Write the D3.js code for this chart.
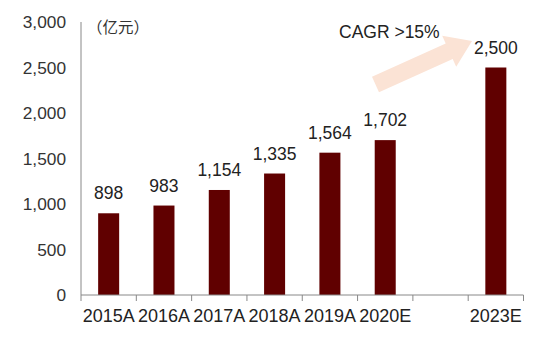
<!DOCTYPE html>
<html><head><meta charset="utf-8">
<script src="https://cdn.jsdelivr.net/npm/d3@7"></script>
<style>body{margin:0;background:#fff}svg{display:block}</style>
</head><body><div id="c"></div>
<script>
const categories = ["2015A","2016A","2017A","2018A","2019A","2020E","gap","2023E"];
const labels = ["2015A","2016A","2017A","2018A","2019A","2020E","","2023E"];
const values = [898,983,1154,1335,1564,1702,null,2500];
const yTicks = [0,500,1000,1500,2000,2500,3000];
const unitText = "（亿元）";
const cagrText = "CAGR >15%";

const W=550,H=337;
const svg=d3.select("#c").append("svg").attr("width",W).attr("height",H);
const font="Liberation Sans, Arial, sans-serif";
const x=d3.scaleBand().domain(categories).range([81,523.5]).paddingInner(0.62).paddingOuter(0.31);
const y=d3.scaleLinear().domain([0,3000]).range([295,22]);

// bars
const data=categories.map((c,i)=>({c,v:values[i]})).filter(d=>d.v!=null);
svg.selectAll("rect.bar").data(data).enter().append("rect")
 .attr("x",d=>x(d.c)).attr("width",x.bandwidth())
 .attr("y",d=>y(d.v)).attr("height",d=>y(0)-y(d.v)).attr("fill","#600000");

// value labels
svg.selectAll("text.val").data(data).enter().append("text")
 .attr("x",d=>x(d.c)+x.bandwidth()/2).attr("y",d=>y(d.v)-14)
 .attr("text-anchor","middle").attr("font-family",font).attr("font-size",17.5).attr("fill","#222")
 .text(d=>d3.format(",")(d.v));

// y axis
svg.append("line").attr("x1",81).attr("x2",81).attr("y1",y(3000)).attr("y2",y(0)).attr("stroke","#888").attr("stroke-width",1);
svg.selectAll("text.yt").data(yTicks).enter().append("text")
 .attr("x",66).attr("y",d=>y(d)).attr("dy","0.36em").attr("text-anchor","end")
 .attr("font-family",font).attr("font-size",17.3).attr("fill","#333").text(d=>d3.format(",")(d));

// x axis
svg.append("line").attr("x1",81).attr("x2",523.5).attr("y1",y(0)).attr("y2",y(0)).attr("stroke","#888");
const bounds=d3.range(categories.length+1).map(i=>81+i*(442.5/categories.length));
svg.selectAll("line.xt").data(bounds).enter().append("line")
 .attr("x1",d=>d).attr("x2",d=>d).attr("y1",y(0)).attr("y2",y(0)+6).attr("stroke","#888");
svg.selectAll("text.xl").data(categories).enter().append("text")
 .attr("x",d=>x(d)+x.bandwidth()/2).attr("y",322)
 .attr("text-anchor","middle").attr("font-family",font).attr("font-size",18).attr("fill","#222")
 .text((d,i)=>labels[i]);

// unit
svg.append("text").attr("x",87).attr("y",33).attr("font-family","Noto Sans CJK SC, sans-serif")
 .attr("font-size",15.5).attr("fill","#333").text(unitText);

// arrow
const ax0=375.5, ay0=84.5, ax1=472, ay1=41;
const len=Math.hypot(ax1-ax0,ay1-ay0), ang=Math.atan2(ay1-ay0,ax1-ax0)*180/Math.PI;
const sh=8.5, hh=17, hl=25;
svg.append("path").attr("transform",`translate(${ax0},${ay0}) rotate(${ang})`)
 .attr("d",`M0,${-sh}L${len-hl},${-sh}L${len-hl},${-hh}L${len},0L${len-hl},${hh}L${len-hl},${sh}L0,${sh}Z`)
 .attr("fill","#fbe3d5");

svg.append("text").attr("x",339).attr("y",38).attr("font-family",font).attr("font-size",17.5)
 .attr("fill","#222").text(cagrText);
</script></body></html>
